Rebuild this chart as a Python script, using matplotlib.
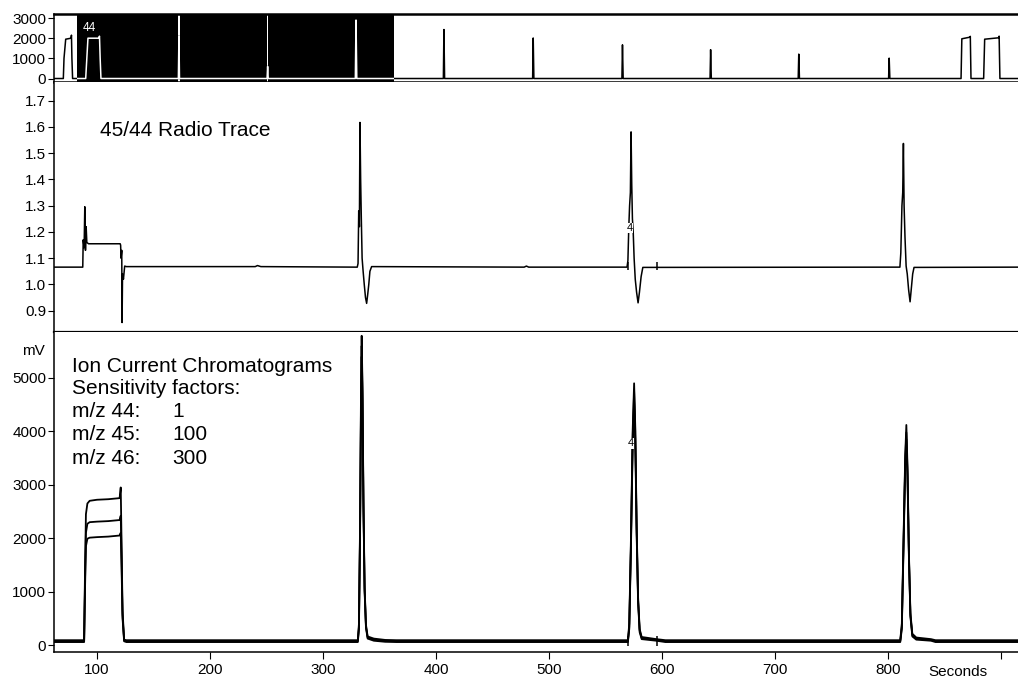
import matplotlib
matplotlib.use("Agg")
import matplotlib.pyplot as plt
from matplotlib.patches import Rectangle

plt.rcParams['font.family'] = ['Liberation Sans', 'DejaVu Sans']

# ---------------- data ----------------
# overview trace (top strip)
t_top = [62, 70.2, 70.8, 72.3, 77.0, 77.4, 77.8, 78.4, 90, 91, 92, 101.5, 102.2, 102.8, 103.5,
         172.0, 172.5, 173.0, 250.5, 251.0, 251.5, 328.6, 329.2, 329.9,
         406.5, 407.0, 407.6, 485.5, 486.0, 486.6, 564.5, 565.0, 565.6,
         642.5, 643.0, 643.6, 720.5, 721.0, 721.6, 800.5, 801.0, 801.6,
         864.6, 865.3, 872.4, 872.8, 873.4, 884.6, 885.5, 897.8, 898.3, 899.0, 915]
v_top = [0, 0, 1000, 1950, 2000, 2150, 1000, 0, 0, 1000, 2000, 2000, 2100, 1000, 0,
         0, 2100, 0, 0, 600, 0, 0, 2900, 0,
         0, 2430, 0, 0, 2010, 0, 0, 1670, 0,
         0, 1430, 0, 0, 1210, 0, 0, 1010, 0,
         0, 1970, 2050, 2090, 0, 0, 1950, 2020, 2100, 0, 0]
block_spans = [(82.0, 172.0), (173.2, 250.4), (251.6, 363.0)]
top_yticks = [0, 1000, 2000, 3000]

# 45/44 radio trace
t_ratio = [62, 87.4, 87.8, 88.6, 89.2, 89.8, 90.4, 91.0, 92.5, 120.5, 120.9, 121.3, 121.9,
           122.2, 122.6, 123.4, 124.5, 126, 240, 242, 245,
           330.3, 331.0, 331.6, 332.2, 332.7, 333.3, 333.9, 334.6, 335.5, 336.5, 337.6,
           338.6, 339.5, 340.5, 341.5, 343.0, 478, 480, 482,
           569.0, 569.8, 570.6, 571.3, 572.0, 572.6, 573.2, 573.8, 574.5, 575.3, 576.3,
           577.5, 578.8, 580.0, 581.5, 583.0,
           810.5, 811.3, 812.3, 813.0, 813.6, 814.2, 815.0, 816.0, 817.0, 818.2, 819.5,
           820.5, 821.8, 823.0, 915]
v_ratio = [1.066, 1.066, 1.17, 1.14, 1.296, 1.13, 1.22, 1.16, 1.155, 1.155, 1.15, 1.10, 1.13,
           0.855, 1.04, 1.02, 1.07, 1.068, 1.068, 1.072, 1.068,
           1.066, 1.08, 1.28, 1.22, 1.617, 1.40, 1.25, 1.10, 1.05, 1.00, 0.95,
           0.928, 0.96, 1.00, 1.05, 1.068, 1.066, 1.070, 1.066,
           1.066, 1.09, 1.22, 1.30, 1.35, 1.581, 1.38, 1.25, 1.20, 1.10, 1.02,
           0.97, 0.93, 0.97, 1.03, 1.065,
           1.066, 1.12, 1.30, 1.35, 1.537, 1.30, 1.18, 1.07, 1.04, 0.98, 0.934,
           0.98, 1.04, 1.065, 1.066]
ratio_yticks = [0.9, 1.0, 1.1, 1.2, 1.3, 1.4, 1.5, 1.6, 1.7]

# ion current chromatograms (mV)
t_ion = [62, 88.6, 89.4, 90.2, 91.5, 93.5, 100, 110, 120, 121.0, 121.6, 122.6, 124, 126,
         330.8, 331.8, 332.8, 333.6, 334.2, 334.9, 335.8, 336.8, 338.0, 339.5, 345, 355, 365,
         569.8, 571.0, 572.5, 574.0, 575.3, 576.3, 577.5, 578.8, 580.2, 582, 595, 603,
         810.8, 812.2, 813.8, 815.2, 816.2, 817.2, 818.5, 819.8, 821.5, 825, 838, 842, 915]
mz44 = [90, 90, 1400, 2450, 2650, 2700, 2720, 2730, 2750, 2950, 2100, 650, 100, 90,
        90, 400, 2300, 4700, 5790, 4900, 2700, 1100, 380, 160, 120, 95, 90,
        90, 400, 2000, 4000, 4900, 4100, 2300, 900, 300, 150, 110, 90,
        90, 400, 2100, 3550, 4120, 3350, 1700, 600, 210, 140, 110, 90, 90]
mz45 = [72, 72, 1200, 2100, 2270, 2300, 2310, 2320, 2340, 2420, 1800, 560, 85, 72,
        72, 340, 2200, 4500, 5600, 4750, 2600, 1050, 350, 140, 100, 78, 72,
        72, 340, 1900, 3850, 4750, 4000, 2200, 850, 270, 130, 95, 72,
        72, 340, 2000, 3450, 3980, 3250, 1650, 560, 180, 120, 95, 72, 72]
mz46 = [55, 55, 1050, 1850, 1990, 2010, 2020, 2030, 2050, 2100, 1600, 500, 70, 55,
        55, 300, 2100, 4300, 5400, 4600, 2500, 1000, 320, 120, 80, 60, 55,
        55, 300, 1800, 3700, 4550, 3850, 2100, 800, 240, 110, 80, 55,
        55, 300, 1900, 3350, 3850, 3150, 1600, 530, 160, 100, 80, 55, 55]
ion_yticks = [0, 1000, 2000, 3000, 4000, 5000]

peak_marks = [570.0, 595.6]
x_ticks = [100, 200, 300, 400, 500, 600, 700, 800, 900]
x_labels = ['100', '200', '300', '400', '500', '600', '700', '800', '']

XLIM = (61.95, 915.0)

# ---------------- figure ----------------
fig = plt.figure(figsize=(10.18, 6.79), dpi=100)
L, W = 54 / 1018, 1 - 54 / 1018
ax_top = fig.add_axes([L, 1 - 82 / 679, W, 68 / 679])
ax_mid = fig.add_axes([L, 1 - 332 / 679, W, 250 / 679])
ax_bot = fig.add_axes([L, 1 - 652 / 679, W, 320 / 679])

for ax in (ax_top, ax_mid, ax_bot):
    ax.set_xlim(*XLIM)
    ax.spines['right'].set_visible(False)
    ax.tick_params(axis='y', direction='out', length=4, width=0.8, labelsize=11, pad=1.5)
    for s in ax.spines.values():
        s.set_linewidth(1.1)

# top strip
ax_top.set_ylim(-173, 3200)
ax_top.plot(t_top, v_top, color='black', lw=1.1, zorder=1)
for a, b in block_spans:
    ax_top.axvspan(a, b, color='black', lw=0, zorder=2)
clip = Rectangle((block_spans[0][0], -173), block_spans[-1][1] - block_spans[0][0], 3373,
                 transform=ax_top.transData, facecolor='none', edgecolor='none')
ax_top.add_patch(clip)
wl, = ax_top.plot(t_top, v_top, color='white', lw=1.1, zorder=3)
wl.set_clip_path(clip)
ax_top.text(87.6, 2500, '44', color='white', fontsize=8.5, ha='left', va='center', zorder=4)
ax_top.set_yticks(top_yticks)
ax_top.set_xticks([])
ax_top.spines['top'].set_linewidth(1.8)
ax_top.spines['bottom'].set_linewidth(1.8)

# middle radio trace
ax_mid.set_ylim(0.819, 1.771)
ax_mid.plot(t_ratio, v_ratio, color='black', lw=1.1)
ax_mid.vlines(peak_marks, 1.054, 1.086, color='black', lw=1.1)
ax_mid.text(571.5, 1.215, '4', fontsize=8, color='black', ha='center', va='center',
            bbox=dict(facecolor='white', edgecolor='none', pad=0.3))
ax_mid.set_yticks(ratio_yticks)
ax_mid.set_yticklabels([f'{v:.1f}' for v in ratio_yticks])
ax_mid.set_xticks([])
ax_mid.spines['top'].set_visible(False)
ax_mid.spines['bottom'].set_linewidth(1.6)
ax_mid.text(0.0477, 0.808, '45/44 Radio Trace', transform=ax_mid.transAxes,
            fontsize=15, ha='left', va='center')

# bottom ion currents
ax_bot.set_ylim(-131, 5861)
ax_bot.plot(t_ion, mz46, color='black', lw=1.3)
ax_bot.plot(t_ion, mz45, color='black', lw=1.3)
ax_bot.plot(t_ion, mz44, color='black', lw=1.3)
ax_bot.vlines(peak_marks, -20, 160, color='black', lw=1.1)
ax_bot.text(572.5, 3780, '4', fontsize=8, color='black', ha='center', va='center',
            bbox=dict(facecolor='white', edgecolor='none', pad=0.3))
ax_bot.set_yticks(ion_yticks)
ax_bot.set_xticks(x_ticks)
ax_bot.set_xticklabels(x_labels)
ax_bot.tick_params(axis='x', direction='out', length=5, width=0.8, labelsize=11, pad=3)
ax_bot.spines['top'].set_visible(False)
ax_bot.annotate('Seconds', xy=(862, 0), xycoords=('data', 'axes fraction'),
                xytext=(0, -9.5), textcoords='offset points', ha='center', va='top',
                fontsize=11)

lines = ['Ion Current Chromatograms', 'Sensitivity factors:', 'm/z 44:', 'm/z 45:', 'm/z 46:']
vals = ['', '', '1', '100', '300']
ys = [366, 389, 412, 435, 458]
for txt, v, y in zip(lines, vals, ys):
    fig.text(72 / 1018, 1 - y / 679, txt, fontsize=15, ha='left', va='center')
    if v:
        fig.text(172 / 1018, 1 - y / 679, v, fontsize=15, ha='left', va='center')
fig.text(22 / 1018, 1 - 351 / 679, 'mV', fontsize=11, ha='left', va='center')

fig.savefig('out.png', dpi=100)
